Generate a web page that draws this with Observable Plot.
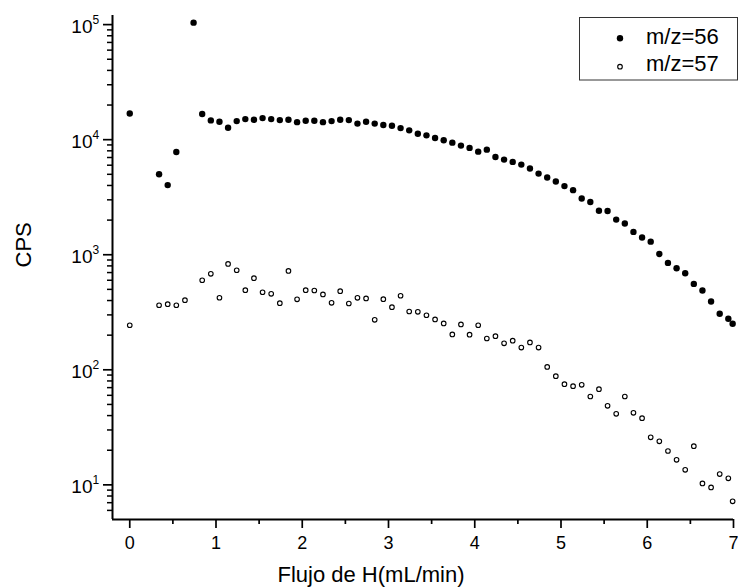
<!DOCTYPE html>
<html><head><meta charset="utf-8">
<script src="https://cdn.jsdelivr.net/npm/d3@7"></script>
<script src="https://cdn.jsdelivr.net/npm/@observablehq/plot@0.6"></script>
<style>
body{margin:0;background:#fff;font-family:"Liberation Sans",Arial,sans-serif;}
#wrap{position:relative;width:738px;height:588px;}
#legend{position:absolute;left:579px;top:17px;}
</style></head>
<body><div id="wrap"></div>
<script>
// m/z=56 (filled)
const x56 = [0, 0.34, 0.44, 0.54, 0.74, 0.84, 0.94, 1.04, 1.14, 1.24, 1.34, 1.44, 1.54, 1.64, 1.74, 1.84, 1.94, 2.04, 2.14, 2.24, 2.34, 2.44, 2.54, 2.64, 2.74, 2.84, 2.94, 3.04, 3.14, 3.24, 3.34, 3.44, 3.54, 3.64, 3.74, 3.84, 3.94, 4.04, 4.14, 4.24, 4.34, 4.44, 4.54, 4.64, 4.74, 4.84, 4.94, 5.04, 5.14, 5.24, 5.34, 5.44, 5.54, 5.64, 5.74, 5.84, 5.94, 6.04, 6.14, 6.24, 6.34, 6.44, 6.54, 6.64, 6.74, 6.84, 6.94, 6.99];
const y56 = [16900, 5000, 4030, 7820, 104000, 16700, 14700, 14300, 12700, 14500, 15100, 14900, 15400, 15100, 14800, 14900, 14200, 14600, 14600, 14200, 14500, 14900, 14800, 13800, 14300, 13800, 13400, 13200, 12600, 12050, 11270, 10900, 10350, 9890, 9420, 8880, 8480, 7870, 8190, 7080, 6710, 6410, 6070, 5610, 5070, 4690, 4330, 3950, 3640, 3080, 2870, 2410, 2400, 2020, 1870, 1580, 1410, 1300, 1016, 849, 763, 690, 558, 489, 392, 307, 278, 251];
// m/z=57 (open)
const x57 = [0, 0.34, 0.44, 0.54, 0.64, 0.84, 0.94, 1.04, 1.14, 1.24, 1.34, 1.44, 1.54, 1.64, 1.74, 1.84, 1.94, 2.04, 2.14, 2.24, 2.34, 2.44, 2.54, 2.64, 2.74, 2.84, 2.94, 3.04, 3.14, 3.24, 3.34, 3.44, 3.54, 3.64, 3.74, 3.84, 3.94, 4.04, 4.14, 4.24, 4.34, 4.44, 4.54, 4.64, 4.74, 4.84, 4.94, 5.04, 5.14, 5.24, 5.34, 5.44, 5.54, 5.64, 5.74, 5.84, 5.94, 6.04, 6.14, 6.24, 6.34, 6.44, 6.54, 6.64, 6.74, 6.84, 6.94, 6.99];
const y57 = [244, 364, 372, 364, 403, 600, 683, 423, 832, 733, 492, 625, 472, 457, 379, 724, 410, 492, 489, 452, 382, 482, 377, 422, 417, 272, 411, 350, 440, 321, 319, 298, 274, 253, 203, 248, 202, 244, 187, 196, 170, 179, 156, 173, 156, 106, 88, 75, 72, 74, 58.6, 67.8, 48.6, 41.4, 58.6, 42.3, 38, 25.9, 23.9, 19.7, 16.5, 13.5, 21.7, 10.3, 9.5, 12.4, 11.4, 7.2];

const seriesNames = ["m/z=56", "m/z=57"];
const xTitle = "Flujo de H(mL/min)";
const yTitle = "CPS";
const xDomain = [-0.2, 7];
const yDomain = [5, 120000];
const xMajor = [0, 1, 2, 3, 4, 5, 6, 7];
const xMinor = [0.5, 1.5, 2.5, 3.5, 4.5, 5.5, 6.5];
const yDecades = [10, 100, 1000, 10000, 100000];
const yMinor = [6, 7, 8, 9, 20, 30, 40, 50, 60, 70, 80, 90, 200, 300, 400, 500, 600, 700, 800, 900, 2000, 3000, 4000, 5000, 6000, 7000, 8000, 9000, 20000, 30000, 40000, 50000, 60000, 70000, 80000, 90000];

const d56 = x56.map((x, i) => ({x, y: y56[i]}));
const d57 = x57.map((x, i) => ({x, y: y57[i]}));

const font = '"Liberation Sans", Arial, sans-serif';
const chart = Plot.plot({
  width: 738, height: 588,
  marginLeft: 112, marginRight: 5, marginTop: 15, marginBottom: 69,
  style: {fontFamily: font, background: "white", color: "black", overflow: "visible"},
  x: {domain: xDomain, label: null},
  y: {type: "log", domain: yDomain, label: null},
  marks: [
    Plot.axisX({ticks: xMajor, tickSize: 9, tickPadding: 8, fontSize: 18, strokeWidth: 1.7, label: null}),
    Plot.axisX({ticks: xMinor, tickSize: 5, tickFormat: () => "", strokeWidth: 1.7, label: null}),
    Plot.axisY({ticks: yDecades, tickSize: 9, tickFormat: () => "", strokeWidth: 1.7, label: null}),
    Plot.axisY({ticks: yMinor, tickSize: 5, tickFormat: () => "", strokeWidth: 1.5, label: null}),
    Plot.text(yDecades, {y: d => d, text: () => "10", frameAnchor: "left", textAnchor: "end", dx: -20, dy: 2, fontSize: 19}),
    Plot.text(yDecades, {y: d => d, text: d => String(Math.round(Math.log10(d))), frameAnchor: "left", textAnchor: "start", dx: -20, dy: -4.5, fontSize: 12}),
    Plot.ruleX([xDomain[0]], {strokeWidth: 2}),
    Plot.ruleY([yDomain[0]], {strokeWidth: 2}),
    Plot.dot(d56, {x: "x", y: "y", r: 3.2, fill: "black"}),
    Plot.dot(d57, {x: "x", y: "y", r: 2.3, stroke: "black", strokeWidth: 1.1, fill: "none"}),
    Plot.text([yTitle], {text: d => d, frameAnchor: "left", dx: -89, rotate: -90, fontSize: 22}),
    Plot.text([xTitle], {text: d => d, frameAnchor: "bottom", lineAnchor: "middle", dx: -52, dy: 55, fontSize: 22})
  ]
});
const wrap = document.getElementById("wrap");
wrap.appendChild(chart);

// legend
const ns = "http://www.w3.org/2000/svg";
const leg = document.createElementNS(ns, "svg");
leg.setAttribute("id", "legend");
leg.setAttribute("width", "159");
leg.setAttribute("height", "64");
leg.innerHTML = `
<rect x="0.5" y="0.5" width="158" height="62.5" fill="white" stroke="#333" stroke-width="1"/>
<circle cx="41" cy="21.3" r="3.2" fill="black"/>
<circle cx="41" cy="49.7" r="2.3" fill="none" stroke="black" stroke-width="1.1"/>
<text x="67" y="26.5" font-size="22" font-family='${font}'>${seriesNames[0]}</text>
<text x="67" y="54" font-size="22" font-family='${font}'>${seriesNames[1]}</text>`;
wrap.appendChild(leg);
</script>
</body></html>
